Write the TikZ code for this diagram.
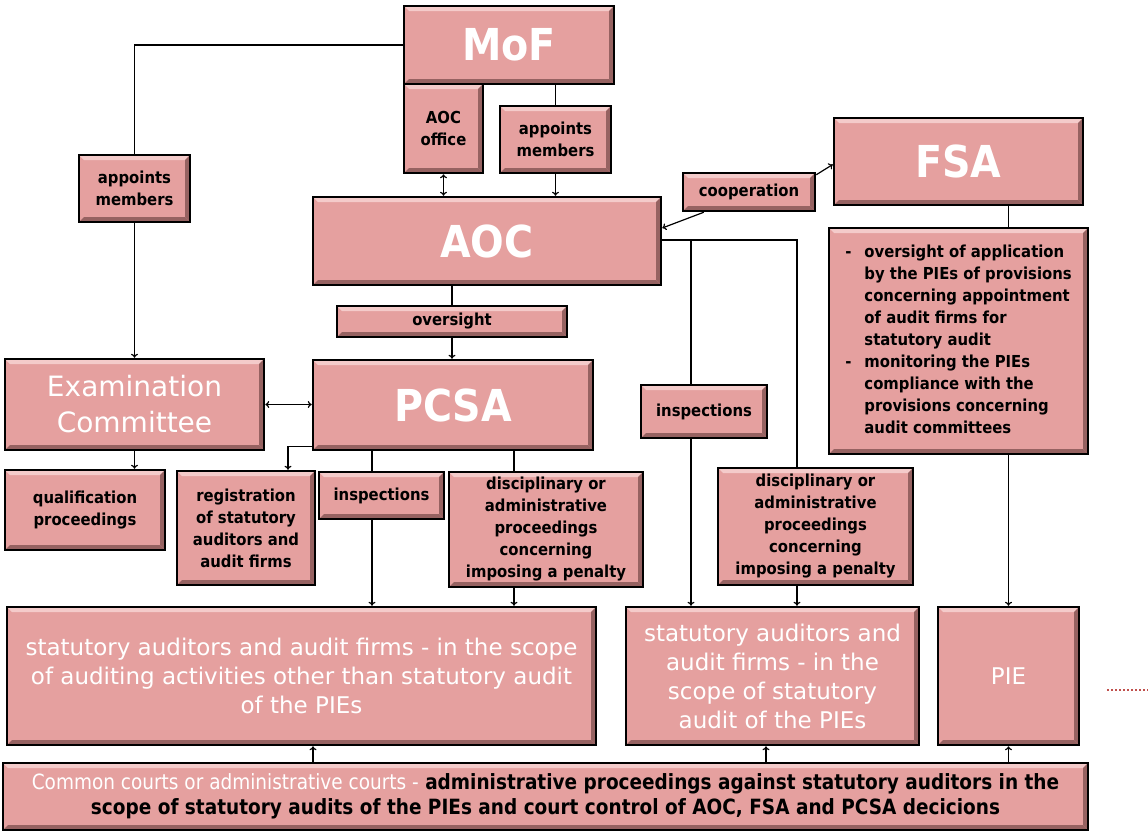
\documentclass[tikz,border=0pt]{standalone}
\usepackage{fontspec}
\setmainfont{DejaVu Sans}[FakeStretch=0.9]
\newfontfamily\widefont{DejaVu Sans}
\newfontfamily\narrowfont{DejaVu Sans}[FakeStretch=0.88]
\usetikzlibrary{arrows.meta}

\definecolor{boxfill}{RGB}{229,160,159}
\definecolor{bevtop}{RGB}{244,203,202}
\definecolor{bevdark}{RGB}{150,98,97}
\definecolor{dotred}{RGB}{192,80,77}

\begin{document}
\begin{tikzpicture}[
  x=1pt, y=-1pt,
  box/.style={draw=black, line width=2.5pt, fill=boxfill, align=center, inner sep=2pt,
    path picture={
      \fill[bevtop] (path picture bounding box.north west) -- (path picture bounding box.north east)
        -- ([shift={(-5pt,-5pt)}]path picture bounding box.north east) -- ([shift={(5pt,-5pt)}]path picture bounding box.north west) -- cycle;
      \fill[bevdark] (path picture bounding box.south west) -- (path picture bounding box.south east)
        -- ([shift={(-5pt,5pt)}]path picture bounding box.south east) -- ([shift={(5pt,5pt)}]path picture bounding box.south west) -- cycle;
      \fill[bevdark] (path picture bounding box.north east) -- (path picture bounding box.south east)
        -- ([shift={(-5pt,5pt)}]path picture bounding box.south east) -- ([shift={(-5pt,-5pt)}]path picture bounding box.north east) -- cycle;
    }},
  lbl/.style={box, font=\bfseries\fontsize{16.5}{22}\selectfont},
  big/.style={box, text=white, font=\bfseries\fontsize{44}{48}\selectfont},
  wtext/.style={box, text=white, font=\widefont\fontsize{23}{29}\selectfont},
  arrow/.style={-{To[length=4pt,width=7pt]}, line width=1.2pt},
  dblarrow/.style={{To[length=4pt,width=7pt]}-{To[length=4pt,width=7pt]}, line width=1.2pt},
  line/.style={line width=1.2pt},
]
  \useasboundingbox (0,0) rectangle (1148,833);

  % top: MoF and AOC
  \node[big, minimum width=210, minimum height=78] (mof) at (509,45) {MoF};
  \node[lbl, minimum width=79, minimum height=89] (aocoff) at (443.5,128.5) {AOC\\office};
  \node[lbl, minimum width=111, minimum height=67] (appmof) at (555.5,139.5) {appoints\\members};
  \node[big, minimum width=348, minimum height=88] (aoc) at (487,241) {AOC};
  \node[big, minimum width=249, minimum height=87] (fsa) at (958.5,161.5) {FSA};
  \node[lbl, minimum width=132, minimum height=38] (coop) at (749,192) {cooperation};
  \node[lbl, minimum width=259, minimum height=226, align=left] (fsalist) at (958.5,341) {%
    \begin{tabular}{@{}l@{\hspace{13pt}}l@{}}
      - & oversight of application\\
        & by the PIEs of provisions\\
        & concerning appointment\\
        & of audit firms for\\
        & statutory audit\\
      - & monitoring the PIEs\\
        & compliance with the\\
        & provisions concerning\\
        & audit committees
    \end{tabular}};

  % left: examination committee and PCSA
  \node[lbl, minimum width=111, minimum height=67] (appexam) at (134.5,188.5) {appoints\\members};
  \node[wtext, minimum width=259, minimum height=91, font=\widefont\fontsize{28}{36}\selectfont] (exam) at (134.5,404.5) {Examination\\Committee};
  \node[lbl, minimum width=230, minimum height=31] (oversight) at (452,321.5) {oversight};
  \node[big, minimum width=280, minimum height=90] (pcsa) at (453,405) {PCSA};

  % proceedings
  \node[lbl, minimum width=160, minimum height=80] (qual) at (85,510) {qualification\\proceedings};
  \node[lbl, minimum width=138, minimum height=114] (reg) at (246,528) {registration\\of statutory\\auditors and\\audit firms};
  \node[lbl, minimum width=125, minimum height=47] (insp1) at (381.5,495.5) {inspections};
  \node[lbl, minimum width=194, minimum height=115] (disc1) at (546,529.5) {disciplinary or\\administrative\\proceedings\\concerning\\imposing a penalty};
  \node[lbl, minimum width=126, minimum height=53] (insp2) at (704,411.5) {inspections};
  \node[lbl, minimum width=195, minimum height=117] (disc2) at (815.5,526.5) {disciplinary or\\administrative\\proceedings\\concerning\\imposing a penalty};

  % supervised entities
  \node[wtext, minimum width=589, minimum height=138] (sa1) at (301.5,676) {statutory auditors and audit firms - in the scope\\of auditing activities other than statutory audit\\of the PIEs};
  \node[wtext, minimum width=293, minimum height=138] (sa2) at (772.5,676) {statutory auditors and\\audit firms - in the\\scope of statutory\\audit of the PIEs};
  \node[wtext, minimum width=141, minimum height=138] (pie) at (1008.5,676) {PIE};
  \node[lbl, minimum width=1085, minimum height=67, font=\narrowfont\bfseries\fontsize{21}{25}\selectfont] (courts) at (545.5,796.5)
    {{\mdseries\color{white}Common courts or administrative courts -} administrative proceedings against statutory auditors in the\\scope of statutory audits of the PIEs and court control of AOC, FSA and PCSA decicions};

  % connectors
  \coordinate (ra) at (691,240);
  \coordinate (rb) at (797,240);
  \coordinate (xi) at (372,0);
  \coordinate (xd) at (514,0);
  \coordinate (xr) at (288,0);
  \coordinate (c1) at (313,0);
  \coordinate (c2) at (766,0);

  \draw[line] (mof.west) -| (appexam.north);
  \draw[arrow] (appexam.south) -- (exam.north);
  \draw[line] (appmof.north |- mof.south) -- (appmof.north);
  \draw[arrow] (appmof.south) -- (appmof.south |- aoc.north);
  \draw[dblarrow] (aocoff.south) -- (aocoff.south |- aoc.north);
  \draw[arrow] ([yshift=-3pt]coop.north east) -- ([yshift=-3pt]fsa.west);
  \draw[arrow] ([xshift=22pt]coop.south west) -- ([yshift=13pt]aoc.east);

  \draw[line] (aoc.east |- rb) -- (rb) -- (rb |- disc2.north);
  \draw[line] (ra) -- (ra |- insp2.north);
  \draw[arrow] (ra |- insp2.south) -- (ra |- sa2.north);
  \draw[arrow] (rb |- disc2.south) -- (rb |- sa2.north);

  \draw[line] (pie.north |- fsa.south) -- (pie.north |- fsalist.north);
  \draw[arrow] (pie.north |- fsalist.south) -- (pie.north);

  \draw[line] (oversight.north |- aoc.south) -- (oversight.north);
  \draw[arrow] (oversight.south) -- (oversight.south |- pcsa.north);
  \draw[dblarrow] (exam.east) -- (exam.east -| pcsa.west);
  \draw[arrow] (exam.south) -- (exam.south |- qual.north);

  \draw[arrow] ([yshift=5pt]pcsa.south west) -| (xr |- reg.north);
  \draw[line] (xi |- pcsa.south) -- (xi |- insp1.north);
  \draw[arrow] (xi |- insp1.south) -- (xi |- sa1.north);
  \draw[line] (xd |- pcsa.south) -- (xd |- disc1.north);
  \draw[arrow] (xd |- disc1.south) -- (xd |- sa1.north);

  \draw[arrow] (c1 |- courts.north) -- (c1 |- sa1.south);
  \draw[arrow] (c2 |- courts.north) -- (c2 |- sa2.south);
  \draw[arrow] (pie.south |- courts.north) -- (pie.south);

  \draw[dotted, dotred, line width=2pt] (1107,690) -- (1148,690);
\end{tikzpicture}
\end{document}
